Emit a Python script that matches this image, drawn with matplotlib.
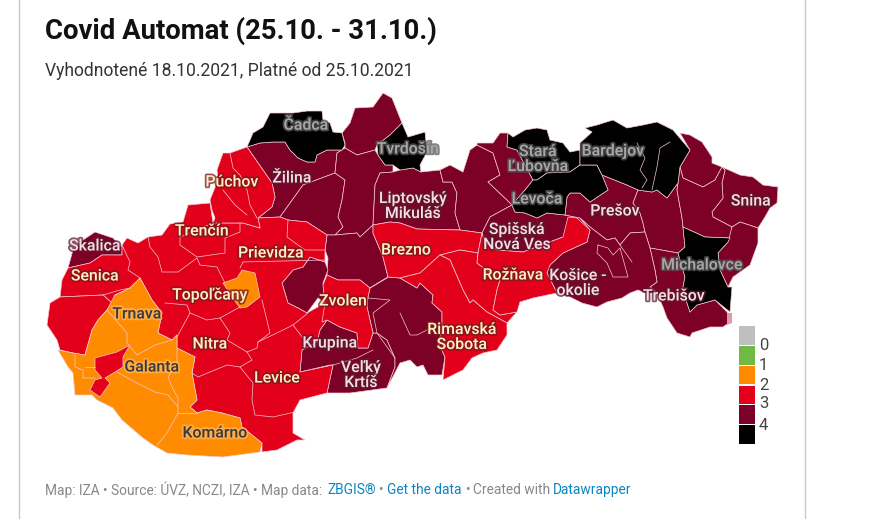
import matplotlib
matplotlib.use('Agg')
import matplotlib.pyplot as plt
import matplotlib.patheffects as pe
from matplotlib.patches import Polygon, Rectangle

plt.rcParams['font.family'] = ['Roboto', 'DejaVu Sans']

TITLE = 'Covid Automat (25.10. - 31.10.)'
SUBTITLE = 'Vyhodnotené 18.10.2021, Platné od 25.10.2021'

LEVEL_COLORS = ['#bfbfbf', '#72b844', '#ff8c00', '#e3001b', '#7d0026', '#000000']
LEVEL_LABELS = ['0', '1', '2', '3', '4']
BORDER = '#f2c9d2'

# district outlines, x/y in image pixels
cadca = [(247,147),(253,133),(263,127),(270,113),(280,113),(293,113),(307,111),(322,111),(323,120),(330,123),
         (333,132),(342,133),(345,145),(342,150),(327,150),(317,155),(315,162),(307,162),(298,158),(290,150),
         (285,142),(273,142),(260,143)]
tvrdosin = [(377,145),(390,135),(402,123),(408,137),(425,132),(427,152),(420,165),(421,172),(413,168),(400,170),
            (393,165),(385,165),(378,155)]
stara_lubovna = [(508,133),(513,137),(525,130),(537,128),(547,130),(550,140),(563,143),(570,152),(580,150),
                 (580,165),(570,172),(547,173),(537,180),(533,180),(517,150),(507,147)]
levoca = [(533,180),(537,180),(547,173),(570,172),(580,165),(597,165),(602,175),(608,190),(590,202),(580,193),
          (570,193),(567,197),(565,215),(547,213),(537,218),(525,213),(515,212),(512,205),(525,190)]
bardejov = [(580,165),(580,143),(592,132),(585,128),(597,125),(613,120),(627,128),(643,125),(657,122),(673,130),
            (690,150),(680,167),(678,183),(667,198),(657,190),(652,192),(638,190),(627,185),(602,175),(597,165)]
michalovce = [(683,227),(705,237),(730,238),(728,242),(718,253),(720,270),(728,287),(732,287),(730,312),(715,300),
              (697,305),(690,312),(687,303),(683,287),(685,277),(678,253),(685,247)]

namestovo = [(342,133),(350,123),(355,108),(373,107),(383,93),(392,98),(402,123),(390,135),(377,145),(375,150),
             (357,155),(345,148),(345,143)]
zilina = [(247,147),(260,143),(273,142),(285,142),(290,150),(298,158),(307,162),(315,162),(317,155),(327,150),
          (342,150),(337,153),(335,173),(303,185),(280,217),(258,218),(272,207),(275,197),(272,183)]
turiec = [(335,173),(345,180),(342,200),(338,217),(343,227),(335,235),(327,235),(307,222),(288,220),(280,217),(303,185)]
ruzomberok = [(337,153),(345,148),(357,155),(375,150),(378,155),(385,165),(393,165),(393,172),(380,173),(375,185),
              (373,225),(360,237),(357,233),(335,235),(343,227),(338,217),(342,200),(345,180),(335,173)]
lipt_mikulas = [(380,173),(393,172),(400,170),(413,168),(421,172),(440,170),(443,182),(452,182),(457,193),(455,213),
                (460,230),(417,229),(400,223),(390,222),(373,225),(375,185)]
poprad = [(440,170),(450,165),(463,172),(470,150),(477,145),(493,153),(500,175),(488,182),(507,200),(512,205),
          (490,217),(482,233),(460,230),(455,213),(457,193),(452,182),(443,182)]
kezmarok = [(477,145),(477,143),(493,143),(500,133),(508,133),(507,147),(517,150),(533,180),(525,190),(512,205),
            (507,200),(488,182),(500,175),(493,153)]
spisska = [(482,233),(490,217),(512,205),(515,212),(525,213),(537,218),(547,213),(565,215),(580,218),(590,230),
           (563,237),(547,243),(523,252),(497,250),(485,243)]
presov = [(567,197),(570,193),(580,193),(590,202),(608,190),(602,175),(627,185),(638,190),(633,203),(640,213),
          (643,223),(645,232),(630,233),(620,245),(615,238),(607,240),(590,227),(580,218),(565,215)]
vranov = [(638,190),(652,192),(657,190),(667,198),(678,183),(677,190),(682,218),(683,227),(685,247),(678,253),
          (650,248),(645,232),(643,223),(640,213),(633,203)]
medzilaborce = [(680,133),(690,135),(702,142),(712,157),(712,163),(722,167),(715,180),(703,187),(683,178),(680,167),(690,150)]
snina = [(722,167),(740,175),(753,177),(763,185),(778,187),(777,203),(770,208),(765,217),(758,228),(740,222),
         (732,227),(713,217),(712,212),(723,198),(722,183),(725,170)]
humenne = [(680,167),(683,178),(703,187),(715,180),(722,167),(725,170),(722,183),(723,198),(712,212),(713,217),
           (732,227),(730,238),(705,237),(683,227),(682,218),(677,190),(678,183)]
sobrance = [(732,227),(740,222),(758,228),(758,243),(750,265),(733,277),(728,287),(720,270),(718,253),(728,242)]
trebisov = [(650,248),(678,253),(685,277),(683,287),(687,303),(690,312),(697,305),(715,300),(727,312),(730,322),
            (723,327),(710,327),(692,333),(690,337),(677,333),(667,318),(663,307),(657,293),(650,287),(657,282),(655,270)]
kosice_okolie = [(580,218),(590,227),(607,240),(615,238),(620,245),(630,233),(645,232),(650,248),(655,270),(657,282),
                 (650,287),(657,293),(645,293),(638,290),(630,293),(622,298),(607,302),(597,307),(582,303),(570,297),
                 (557,293),(547,273),(550,265),(563,253),(587,242),(590,230)]
banska_bystrica = [(327,235),(335,235),(357,233),(360,237),(373,225),(373,233),(383,257),(388,277),(370,288),(360,280),
                   (338,280),(327,275),(328,258),(325,250)]
ziar = [(328,270),(323,283),(325,303),(318,298),(307,313),(298,308),(288,303),(285,293),(282,283),(293,270),(303,267),
        (310,257),(325,262)]
krupina_krtis = [(327,320),(320,330),(317,342),(302,350),(300,372),(330,365),(333,365),(327,393),(350,393),(387,388),
                 (395,367),(395,358),(387,340),(377,333),(373,333),(368,348),(358,348),(357,333),(340,327)]
lucenec = [(370,288),(388,277),(400,278),(417,288),(420,283),(433,295),(432,303),(442,312),(442,332),(438,342),(445,357),
           (442,375),(428,375),(423,365),(417,367),(410,360),(400,363),(387,388),(395,367),(395,358),(387,340),(377,333),
           (373,333),(367,307),(368,297)]
skalica = [(95,232),(113,238),(122,247),(122,255),(102,255),(90,263),(68,268),(73,250),(83,240)]
sobrance_strip = [(727,313),(732,313),(732,323),(727,325)]

west_red = [(210,203),(188,205),(183,222),(170,224),(162,235),(148,237),(138,243),(127,238),(122,245),(122,255),(102,255),
            (90,263),(68,268),(62,280),(60,297),(103,295),(112,303),(115,295),(130,288),(140,278),(152,300),(162,313),
            (158,333),(172,340),(177,335),(177,348),(195,357),(192,373),(197,400),(190,407),(197,413),(207,410),(222,413),
            (240,418),(242,427),(262,443),(262,452),(277,450),(297,440),(305,440),(293,433),(293,413),(300,400),(327,393),
            (333,365),(300,372),(302,350),(317,342),(320,330),(327,320),(325,303),(307,313),(298,308),(288,303),(285,293),
            (282,283),(293,270),(303,267),(310,257),(325,262),(325,250),(327,235),(307,222),(288,220),(280,217),(258,218),
            (260,228),(243,223),(213,223)]
povazie = [(223,153),(230,153),(247,147),(272,183),(275,197),(272,207),(258,218),(260,228),(243,223),(213,223),(215,218),
           (212,210),(210,200),(218,180),(217,170)]
malacky = [(60,297),(103,295),(112,303),(107,310),(98,320),(92,330),(85,355),(73,353),(60,350),(57,340),(47,325),(50,303)]
zvolen = [(327,275),(338,280),(360,280),(370,288),(368,297),(367,307),(373,333),(368,348),(358,348),(357,333),(340,327),
          (327,320),(322,322),(325,303),(323,285)]
brezno = [(373,225),(390,222),(400,223),(417,229),(460,230),(482,233),(478,253),(460,250),(440,255),(420,273),(400,278),
          (388,277),(383,257),(373,233)]
revuca = [(460,250),(478,253),(477,263),(500,280),(497,290),(493,310),(500,315),(517,312),(507,323),(487,312),(473,300),
          (470,303),(463,290),(450,260),(440,255)]
roznava = [(482,233),(485,243),(497,250),(523,252),(547,243),(563,237),(568,217),(577,218),(590,230),(587,242),(563,253),
           (550,265),(547,273),(557,293),(533,298),(520,302),(517,312),(500,315),(493,310),(497,290),(500,280),(477,263),(478,253)]
rimavska = [(420,273),(440,255),(450,260),(463,290),(470,303),(473,300),(487,312),(507,323),(507,335),(497,350),(483,353),
            (472,358),(463,370),(443,380),(445,357),(438,342),(442,332),(442,312),(432,303),(433,295),(420,283),(417,288),(400,278)]
senec = [(130,345),(123,357),(123,367),(115,372),(105,378),(110,383),(100,397),(90,390),(95,380),(102,378),(95,370),(95,358),(117,352)]

trnava_orange = [(140,278),(152,300),(162,313),(158,333),(172,340),(177,335),(177,348),(195,357),(192,373),(197,400),(190,407),
                 (197,413),(207,410),(222,413),(240,418),(242,427),(262,443),(260,452),(223,457),(187,455),(167,453),(153,445),
                 (143,438),(122,420),(113,408),(97,400),(92,395),(75,395),(73,373),(68,367),(58,350),(73,353),(85,355),(92,330),
                 (98,320),(107,310),(115,295),(130,288)]
topolcany = [(223,283),(237,278),(242,270),(255,273),(260,297),(247,307),(240,308),(232,297)]

# inner district borders
inner_lines = [
    [(230,153),(233,168),(240,175),(247,190),(250,205),(257,218)],
    [(223,190),(235,205),(247,215)],
    [(213,223),(180,237),(180,245),(197,257),(225,253),(225,238),(240,232),(240,223)],
    [(148,237),(150,247),(158,257),(162,272),(178,272),(197,258),(200,265),(217,267),(225,283)],
    [(243,262),(325,260)],[(240,268),(243,262)],[(288,220),(287,237),(305,250),(325,250)],
    [(122,245),(130,262),(128,270),(140,278)],[(130,288),(120,290),(103,295)],
    [(165,303),(187,305),(190,313),(207,320),(220,318),(240,307)],[(190,313),(177,337)],
    [(220,318),(230,333),(227,340),(247,352),(252,360),(240,367),(227,365),(198,377),(192,373)],
    [(247,352),(257,348),(258,342),(270,333),(262,300)],[(258,342),(283,330),(293,325),(308,313)],
    [(293,325),(303,338)],[(240,367),(253,383),(252,400),(255,415),(273,417),(295,412)],
    [(107,310),(127,333),(127,343),(137,355),(155,345),(172,340)],
    [(177,348),(177,363),(168,377),(172,387),(178,398),(178,413),(167,433),(157,445)],
    [(117,372),(135,382),(155,392),(168,395),(178,407)],[(178,413),(197,413)],
    [(75,355),(75,367),(83,370),(83,378),(95,378)],[(85,367),(95,367)],
    [(370,288),(387,278)],[(368,298),(390,300),(373,313),(377,333),(395,358)],
    [(333,365),(357,358),(373,350)],
    [(400,313),(410,335),(417,335),(433,327)],
    [(598,245),(608,248),(613,255),(620,248),(628,277),(613,277),(607,263),(597,253),(598,245)],
    [(620,245),(632,262)],
    [(637,143),(645,158),(640,170),(647,180),(642,188)],
    [(670,142),(660,148),(657,167),(652,190)],
]

labels_text = ['Čadca', 'Tvrdošín', 'Stará\nĽubovňa', 'Bardejov', 'Levoča', 'Michalovce']
labels_x = [306, 408, 538, 613, 537, 702]
labels_y = [125, 149, 159, 151, 199, 265]

maroon_text = ['Žilina', 'Liptovský\nMikuláš', 'Spišská\nNová Ves', 'Prešov', 'Snina', 'Košice -\nokolie', 'Trebišov',
               'Krupina', 'Veľký\nKrtíš', 'Skalica']
maroon_x = [292, 413, 517, 615, 751, 578, 674, 330, 361, 95]
maroon_y = [178, 206, 237, 211, 201, 283, 296, 343, 375, 246]

red_text = ['Púchov', 'Trenčín', 'Prievidza', 'Brezno', 'Senica', 'Topoľčany', 'Zvolen', 'Nitra', 'Levice', 'Rožňava',
            'Rimavská\nSobota']
red_x = [232, 202, 271, 406, 95, 210, 343, 210, 277, 513, 462]
red_y = [182, 231, 253, 250, 276, 295, 301, 344, 378, 275, 337]

orange_text = ['Trnava', 'Galanta', 'Komárno']
orange_x = [137, 152, 215]
orange_y = [314, 367, 433]

black_polys = [cadca, tvrdosin, stara_lubovna, levoca, bardejov, michalovce]
maroon_polys = [namestovo, zilina, turiec, ruzomberok, lipt_mikulas, poprad, kezmarok, spisska, presov, vranov,
                medzilaborce, snina, humenne, sobrance, trebisov, kosice_okolie, banska_bystrica, ziar, krupina_krtis,
                lucenec, skalica]
red_polys = [west_red, povazie, malacky, zvolen, brezno, revuca, roznava, rimavska]
orange_polys = [trnava_orange, topolcany]

fig = plt.figure(figsize=(8.75, 5.19), dpi=100)
ax = fig.add_axes([0, 0, 1, 1])
ax.set_xlim(0, 875)
ax.set_ylim(519, 0)
ax.axis('off')

ax.plot([19, 19], [0, 519], color='#c8c8c8', lw=1)
ax.plot([805, 805], [0, 519], color='#c8c8c8', lw=1)

ax.text(45, 30.5, TITLE, fontsize=19.8, fontweight='bold', color='#111111', va='center')
ax.text(45, 70.5, SUBTITLE, fontsize=12.65, color='#333333', va='center')

for group, color in [(maroon_polys, LEVEL_COLORS[4]), (black_polys, LEVEL_COLORS[5]),
                     (red_polys, LEVEL_COLORS[3]), (orange_polys, LEVEL_COLORS[2])]:
    for poly in group:
        ax.add_patch(Polygon(poly, closed=True, facecolor=color, edgecolor=BORDER, lw=0.5, joinstyle='round'))

ax.add_patch(Polygon(senec, closed=True, facecolor=LEVEL_COLORS[3], edgecolor=BORDER, lw=0.5))
ax.add_patch(Polygon(sobrance_strip, closed=True, facecolor='#dc9ab0', edgecolor='none'))

for line in inner_lines:
    ax.plot([p[0] for p in line], [p[1] for p in line], color=BORDER, lw=0.5)


def put_labels(texts, xs, ys, color, halo):
    for text, x, y in zip(texts, xs, ys):
        ax.text(x, y, text, fontsize=11.4, fontweight='medium', color=color, ha='center', va='center', linespacing=1.0,
                path_effects=[pe.withStroke(linewidth=2.5, foreground=halo, alpha=0.75)])


put_labels(labels_text, labels_x, labels_y, '#a8a8a8', '#555555')
put_labels(maroon_text, maroon_x, maroon_y, '#f5dde2', '#5c1a30')
put_labels(red_text, red_x, red_y, '#fdf0c8', '#7a1a1a')
put_labels(orange_text, orange_x, orange_y, '#3a3a3a', '#ffb860')

legend_tops = [326, 346, 366, 386, 405, 425]
legend_heights = [19, 19, 18, 18, 19, 19]
for top, height, color in zip(legend_tops, legend_heights, LEVEL_COLORS):
    ax.add_patch(Rectangle((739, top), 16, height, facecolor=color, edgecolor='none'))
for label, y in zip(LEVEL_LABELS, [345, 365, 385, 404, 425]):
    ax.text(759, y, label, fontsize=12, color='#444444', va='center')

footer_parts = ['Map: IZA • Source: ÚVZ, NCZI, IZA • Map data:', 'ZBGIS®', '•', 'Get the data', '•', 'Created with', 'Datawrapper']
footer_x = [45, 327, 378, 387, 465, 473, 553]
footer_colors = ['#888888', '#0a86c0', '#888888', '#0a86c0', '#888888', '#888888', '#0a86c0']
for part, x, color in zip(footer_parts, footer_x, footer_colors):
    ax.text(x, 490, part, fontsize=9.9, color=color, va='center')

fig.savefig('out.png', dpi=100)
